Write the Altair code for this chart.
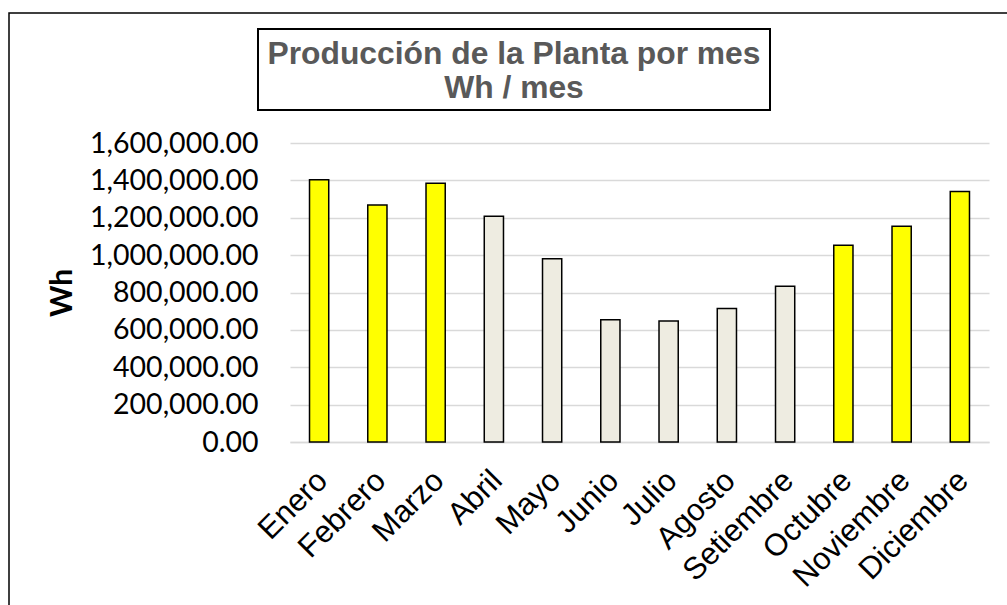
import altair as alt
import pandas as pd

meses = ["Enero", "Febrero", "Marzo", "Abril", "Mayo", "Junio", "Julio",
         "Agosto", "Setiembre", "Octubre", "Noviembre", "Diciembre"]
produccion = [1404000, 1268000, 1384000, 1208000, 980000, 654000, 647000,
              714000, 834000, 1053000, 1154000, 1341000]
temporada = ["alta", "alta", "alta", "baja", "baja", "baja", "baja",
             "baja", "baja", "alta", "alta", "alta"]
titulo = ["Producción de la Planta por mes", "Wh / mes"]
y_ticks = [0, 200000, 400000, 600000, 800000, 1000000, 1200000, 1400000, 1600000]

df = pd.DataFrame({"Mes": meses, "Wh": produccion, "Temporada": temporada})
one = pd.DataFrame({"k": [0]})

W, H = 699, 299

frame = alt.Chart(one).mark_rect(fillOpacity=0, stroke="black", strokeWidth=1.5).encode(
    x=alt.value(-281), x2=alt.value(740), y=alt.value(-130), y2=alt.value(480)
)

bars = alt.Chart(df).mark_bar(stroke="black", strokeWidth=1.5).encode(
    x=alt.X("Mes:N", sort=meses, title=None,
            scale=alt.Scale(paddingInner=0.67, paddingOuter=0.335),
            axis=alt.Axis(labelAngle=-45, labelFont="Liberation Sans", labelFontSize=31,
                          labelColor="black", labelPadding=23, labelOffset=-7, ticks=False,
                          domainColor="#D9D9D9", domainWidth=1.5)),
    y=alt.Y("Wh:Q", title="Wh",
            scale=alt.Scale(domain=[0, 1600000], nice=False),
            axis=alt.Axis(values=y_ticks, format=",.2f", labelFont="Lato",
                          labelFontSize=28.5, labelColor="black", labelPadding=32,
                          ticks=False, domain=False, gridColor="#D9D9D9", gridWidth=1.5,
                          titleFont="Lato", titleFontSize=30, titleFontWeight="bold",
                          titleColor="black", titlePadding=13)),
    color=alt.Color("Temporada:N", legend=None,
                    scale=alt.Scale(domain=["alta", "baja"], range=["#FFFF00", "#EEECE1"])),
)

box = alt.Chart(one).mark_rect(fillOpacity=0, stroke="black", strokeWidth=2).encode(
    x=alt.value(-32), x2=alt.value(480), y=alt.value(-114), y2=alt.value(-33)
)

title = alt.Chart(one).mark_text(
    text=titulo, font="Liberation Sans", fontSize=31.8, fontWeight="bold",
    color="#595959", align="center", baseline="alphabetic", lineHeight=34
).encode(x=alt.value(224), y=alt.value(-79))

chart = alt.layer(frame, bars, box, title).properties(
    width=W, height=H,
    autosize=alt.AutoSizeParams(type="none"),
    padding={"left": 290, "top": 143, "right": 18, "bottom": 163},
    background="white",
).configure_view(strokeWidth=0)

chart.save("out.html", embed_options={"renderer": "svg", "actions": False})
